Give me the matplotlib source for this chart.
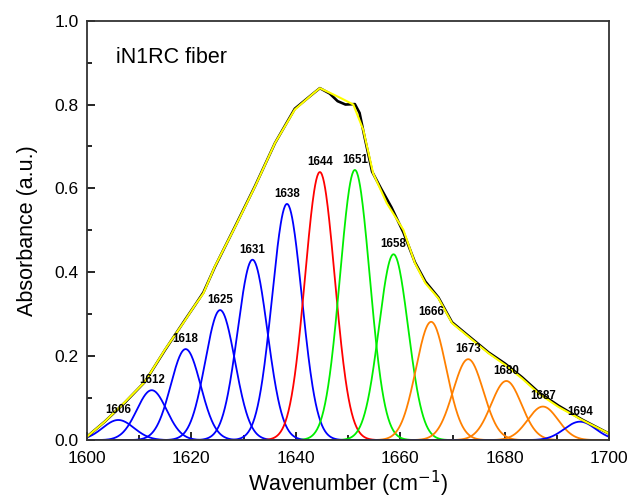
import numpy as np
import matplotlib.pyplot as plt
from matplotlib.ticker import MultipleLocator

plt.rcParams['font.family'] = ['Liberation Sans', 'DejaVu Sans']

# fitted component bands: centre, height, width (sigma), colour
centers = [1606.0, 1612.4, 1618.9, 1625.5, 1631.7, 1638.3, 1644.6, 1651.3,
           1658.7, 1665.9, 1673.0, 1680.3, 1687.3, 1694.4]
heights = [0.048, 0.119, 0.217, 0.310, 0.430, 0.563, 0.639, 0.644,
           0.443, 0.282, 0.193, 0.141, 0.080, 0.044]
widths = [3.0, 2.85, 2.85, 2.85, 2.85, 2.85, 2.85, 2.85,
          2.8, 2.9, 2.9, 2.9, 2.9, 3.0]
labels = ['1606', '1612', '1618', '1625', '1631', '1638', '1644', '1651',
          '1658', '1666', '1673', '1680', '1687', '1694']
colors = ['#0000ff'] * 6 + ['#ff0000', '#00ee00', '#00ee00'] + ['#ff8000'] * 4 + ['#0000ff']

# envelope (fitted sum, yellow)
fit_x = [1600.0, 1603.4, 1607.3, 1611.1, 1614.9, 1618.8, 1620.7, 1622.3, 1624.5,
         1628.4, 1632.2, 1636.0, 1639.8, 1643.4, 1644.6, 1646.5, 1648.5, 1651.0,
         1652.9, 1654.8, 1657.4, 1660.6, 1662.8, 1664.8, 1667.3, 1669.9, 1673.0,
         1676.9, 1680.1, 1683.3, 1686.5, 1690.3, 1694.8, 1699.9]
fit_y = [0.008, 0.044, 0.091, 0.139, 0.215, 0.286, 0.322, 0.350, 0.414,
         0.509, 0.605, 0.708, 0.788, 0.827, 0.839, 0.828, 0.816, 0.800,
         0.740, 0.636, 0.565, 0.501, 0.422, 0.374, 0.338, 0.279, 0.247,
         0.207, 0.179, 0.147, 0.111, 0.079, 0.048, 0.016]

# measured spectrum (black)
exp_x = [1600.0, 1603.4, 1607.3, 1611.1, 1614.9, 1618.8, 1620.7, 1622.3, 1624.5,
         1628.4, 1632.2, 1636.0, 1639.8, 1643.4, 1644.6, 1646.5, 1648.0, 1649.5,
         1651.3, 1652.2, 1653.2, 1654.6, 1656.3, 1658.3, 1660.6, 1662.8, 1664.8,
         1667.3, 1669.9, 1673.0, 1676.9, 1680.1, 1683.3, 1686.5, 1690.3, 1694.8, 1699.9]
exp_y = [0.008, 0.044, 0.090, 0.139, 0.214, 0.287, 0.322, 0.352, 0.413,
         0.510, 0.606, 0.708, 0.790, 0.827, 0.839, 0.826, 0.808, 0.800,
         0.801, 0.780, 0.720, 0.640, 0.600, 0.555, 0.495, 0.424, 0.378,
         0.340, 0.281, 0.249, 0.209, 0.182, 0.150, 0.114, 0.082, 0.049, 0.016]


def main():
    fig = plt.figure(figsize=(6.3, 5.03), dpi=100)
    ax = fig.add_axes([0.138, 0.125, 0.829, 0.834])

    x = np.linspace(1600, 1700, 1001)
    for c, h, w, lab, col in zip(centers, heights, widths, labels, colors):
        y = h * np.exp(-(x - c) ** 2 / (2 * w ** 2))
        ax.plot(x, y, color=col, lw=1.3)
        ax.annotate(lab, (c, h), xytext=(0, 3), textcoords='offset points',
                    ha='center', va='bottom', fontsize=8.3, fontweight='bold')

    ax.plot(exp_x, exp_y, color='black', lw=1.9)
    ax.plot(fit_x, fit_y, color='#ffff00', lw=1.5)

    ax.text(0.056, 0.898, 'iN1RC fiber', transform=ax.transAxes, fontsize=15.5)

    ax.set_xlim(1600, 1700)
    ax.set_ylim(0, 1.0)
    ax.xaxis.set_major_locator(MultipleLocator(20))
    ax.xaxis.set_minor_locator(MultipleLocator(10))
    ax.yaxis.set_major_locator(MultipleLocator(0.2))
    ax.yaxis.set_minor_locator(MultipleLocator(0.1))
    ax.tick_params(which='both', direction='in', labelsize=12.5, width=1.2)
    ax.tick_params(which='major', length=6)
    ax.tick_params(which='minor', length=3.5)
    ax.tick_params(axis='x', which='major', pad=8)
    ax.tick_params(axis='y', which='major', pad=6)
    for s in ax.spines.values():
        s.set_linewidth(1.3)
        s.set_color('#333333')

    ax.set_xlabel('Wavenumber (cm$^{-1}$)', fontsize=15.5, labelpad=2)
    ax.set_ylabel('Absorbance (a.u.)', fontsize=15.5, labelpad=12)

    fig.savefig('out.png', dpi=100)


if __name__ == "__main__":
    main()
